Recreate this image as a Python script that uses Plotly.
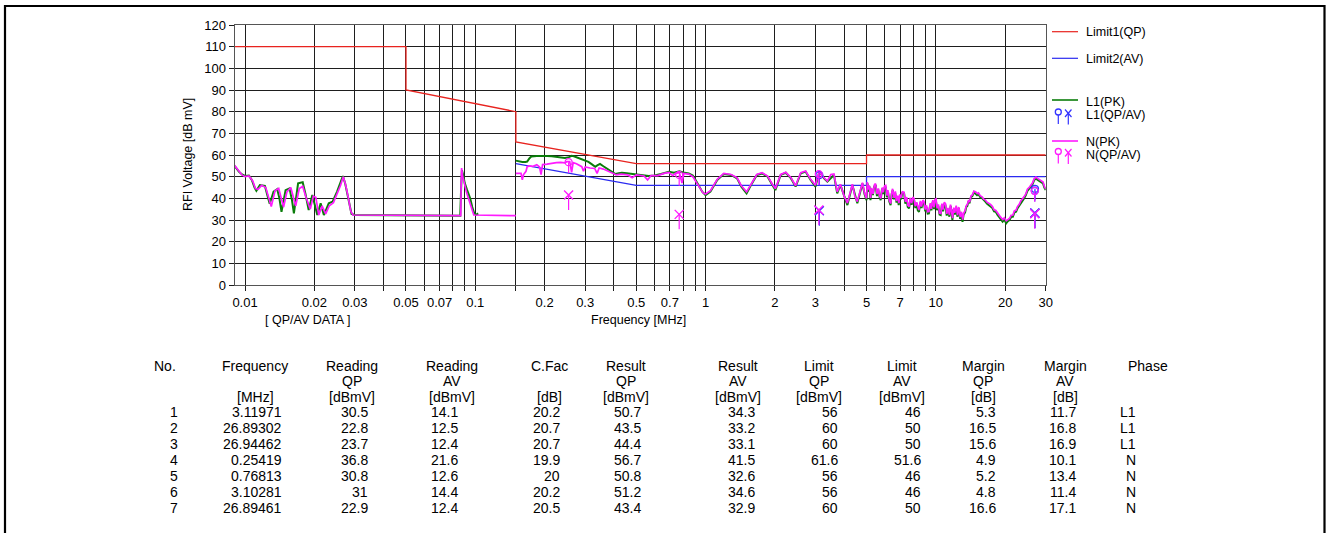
import plotly.graph_objects as go
import math

W, H = 1326, 533

# ---------------- data ----------------
# Limits
lim_qp_f = [0.009, 0.05, 0.05, 0.15, 0.15, 0.5, 5, 5, 30]
lim_qp_v = [110, 110, 90, 80, 66, 56, 56, 60, 60]
lim_av_f = [0.15, 0.5, 5, 5, 30]
lim_av_v = [56, 46, 46, 50, 50]

# L1 peak scan, band A (9 kHz - 150 kHz)
l1_fa = [0.009, 0.0094, 0.0097, 0.0100, 0.0104, 0.0107, 0.0110, 0.0112, 0.0116, 0.0122, 0.0126, 0.0128,
         0.0133, 0.0138, 0.0141, 0.0144, 0.0150, 0.0156, 0.0160, 0.0163, 0.0170, 0.0178, 0.0183, 0.0189,
         0.0196, 0.0200, 0.0206, 0.0213, 0.0220, 0.0231, 0.0240, 0.0251, 0.0260, 0.0266, 0.0272, 0.0278,
         0.0285, 0.0290, 0.0300, 0.0430, 0.0440, 0.0860, 0.0868, 0.0875, 0.0885, 0.0900, 0.0920, 0.0950,
         0.0970, 0.0990, 0.1010, 0.1030]
l1_va = [55.0, 52.3, 51.0, 50.3, 50.5, 48.5, 45.0, 43.5, 46.1, 45.7, 40.0, 37.5,
         43.1, 44.2, 40.0, 33.8, 43.8, 44.6, 39.0, 33.1, 46.9, 47.4, 42.0, 34.6,
         41.5, 38.0, 32.3, 37.7, 32.3, 37.7, 38.5, 43.1, 47.0, 50.3, 47.0, 42.3,
         36.0, 32.8, 32.3, 32.3, 32.0, 32.0, 45.0, 53.0, 51.0, 47.0, 44.0, 40.0,
         36.0, 33.0, 32.5, 33.0]
# L1 peak scan, band B (150 kHz - 30 MHz)
l1_fb = [0.150, 0.155, 0.160, 0.165, 0.168, 0.172, 0.175, 0.185, 0.195, 0.205, 0.215, 0.223,
         0.235, 0.245, 0.255, 0.262, 0.268, 0.280, 0.290, 0.300, 0.310, 0.320, 0.332, 0.340,
         0.348, 0.360, 0.375, 0.390, 0.406, 0.420, 0.433, 0.455, 0.475, 0.497, 0.530, 0.567,
         0.600, 0.640, 0.693, 0.730, 0.770, 0.800, 0.845, 0.880, 0.905, 0.930, 0.952, 0.967,
         1.000, 1.050, 1.124, 1.200, 1.290, 1.370, 1.430, 1.507, 1.590, 1.670, 1.760, 1.860,
         1.950, 2.010, 2.120, 2.230, 2.350, 2.460, 2.590, 2.720, 2.860, 3.000, 3.120, 3.270,
         3.380, 3.610, 3.730, 3.850, 4.130, 4.340, 4.560, 4.800, 4.900,
         5.00, 5.05, 5.10, 5.15, 5.20, 5.27, 5.33, 5.40, 5.48, 5.55, 5.62, 5.70,
         5.76, 5.84, 5.92, 6.00, 6.05, 6.13, 6.20, 6.28, 6.36, 6.43, 6.50, 6.58,
         6.66, 6.75, 6.82, 6.90, 6.98, 7.06, 7.15, 7.28, 7.37, 7.46, 7.55, 7.65,
         7.75, 7.85, 7.95, 8.04, 8.15, 8.25, 8.35, 8.45, 8.56, 8.67, 8.78, 8.88,
         9.00, 9.10, 9.22, 9.33, 9.45, 9.57, 9.70, 9.83, 9.92, 10.00, 10.12, 10.25,
         10.38, 10.50, 10.62, 10.75, 10.88, 11.00, 11.15, 11.30, 11.45, 11.60, 11.70, 11.80,
         11.95, 12.10, 12.25, 12.40, 12.60, 12.75, 12.90, 13.06, 13.20, 13.40, 13.55, 13.70,
         13.85, 14.00, 14.20, 14.40, 14.65, 14.90, 15.10, 15.30, 15.60, 15.90, 16.15, 16.40,
         16.70, 17.00, 17.30, 17.60, 17.90, 18.20, 18.50, 18.80, 19.15, 19.50, 19.85, 20.20,
         20.55, 20.90, 21.25, 21.60, 21.95, 22.30, 22.65, 23.00, 23.40, 23.80, 24.20, 24.60,
         25.00, 25.50, 25.90, 26.30, 26.75, 27.20, 27.70, 28.20, 28.70, 29.20, 29.60, 30.00]
l1_vb = [57.4, 57.0, 56.8, 56.8, 57.0, 58.5, 59.3, 59.5, 59.6, 59.5, 59.4, 59.2,
         58.8, 58.6, 59.0, 59.6, 59.4, 58.6, 58.0, 57.6, 56.8, 55.8, 54.6, 55.3,
         55.9, 54.8, 53.5, 52.3, 51.2, 51.6, 51.8, 51.6, 51.3, 51.2, 50.8, 50.3,
         50.6, 51.2, 52.3, 51.8, 52.5, 51.9, 51.5, 50.5, 48.5, 46.0, 43.8, 43.1,
         41.5, 43.1, 48.5, 51.2, 50.8, 49.2, 45.4, 42.3, 46.9, 50.8, 51.5, 50.0,
         46.2, 43.8, 50.8, 51.8, 49.2, 45.4, 51.5, 52.3, 48.5, 45.4, 52.3, 49.2,
         47.7, 50.8, 42.3, 46.2, 36.9, 46.2, 37.7, 46.9, 42.0,
         39.2, 46.9, 43.0, 45.5, 39.2, 44.0, 41.5, 45.5, 46.2, 41.0, 44.0, 40.5,
         39.2, 44.5, 42.0, 45.0, 45.4, 40.5, 43.0, 38.5, 36.9, 42.0, 43.8, 39.5,
         42.5, 38.0, 40.5, 36.9, 41.0, 39.5, 42.5, 42.3, 37.5, 40.0, 36.0, 35.4,
         39.5, 37.0, 40.0, 39.2, 35.5, 37.5, 34.5, 33.8, 38.0, 35.5, 38.5, 37.7,
         34.0, 36.0, 33.0, 33.1, 37.0, 34.5, 38.5, 35.0, 39.0, 39.2, 34.5, 36.5,
         32.5, 32.3, 37.0, 34.0, 37.5, 36.9, 32.0, 35.0, 31.5, 36.5, 33.0, 30.0,
         35.0, 32.5, 36.0, 31.5, 35.4, 30.5, 33.0, 29.2, 32.5, 33.5, 36.0, 36.5,
         38.5, 37.7, 40.5, 41.0, 42.8, 42.3, 41.5, 42.0, 40.5, 40.0, 39.0, 38.5,
         37.5, 36.9, 36.5, 35.5, 34.0, 33.8, 32.5, 31.5, 30.5, 29.2, 30.2, 28.5,
         29.5, 30.0, 31.5, 31.5, 33.5, 33.8, 35.5, 36.5, 38.0, 39.2, 40.0, 41.5,
         43.5, 44.6, 45.5, 46.5, 48.5, 49.2, 48.5, 48.0, 47.5, 46.9, 45.0, 43.8]

# N peak scan, band A
n_fa = [0.009, 0.0094, 0.0097, 0.0100, 0.0104, 0.0108, 0.0111, 0.0114, 0.0118, 0.0123, 0.0127, 0.0130,
        0.0135, 0.0140, 0.0147, 0.0152, 0.0158, 0.0166, 0.0172, 0.0178, 0.0184, 0.0192, 0.0198, 0.0203,
        0.0209, 0.0216, 0.0224, 0.0232, 0.0242, 0.0252, 0.0260, 0.0267, 0.0273, 0.0280, 0.0288, 0.0294,
        0.0430, 0.0440, 0.0865, 0.0868, 0.0872, 0.0880, 0.0895, 0.0915, 0.0940, 0.0965, 0.0985, 0.1500]
n_va = [55.2, 52.5, 50.8, 50.0, 50.3, 48.0, 44.5, 44.2, 46.0, 45.0, 39.5, 36.2,
        43.5, 44.6, 36.0, 43.0, 45.0, 36.5, 44.5, 45.5, 40.5, 35.0, 41.0, 40.5,
        32.3, 36.5, 32.8, 36.5, 38.0, 42.5, 46.0, 50.0, 46.5, 41.0, 34.0, 32.3,
        32.3, 32.0, 32.0, 46.0, 54.0, 50.5, 47.0, 43.0, 39.0, 35.0, 32.3, 32.0]
# N peak scan, band B
n_fb = [0.150, 0.158, 0.160, 0.162, 0.166, 0.168, 0.172, 0.178, 0.185, 0.190, 0.193, 0.196,
        0.205, 0.215, 0.225, 0.235, 0.245, 0.250, 0.257, 0.262, 0.266, 0.275, 0.285, 0.290,
        0.295, 0.300, 0.315, 0.330, 0.338, 0.345, 0.360, 0.380, 0.395, 0.410, 0.430, 0.460,
        0.480, 0.500, 0.540, 0.560, 0.580, 0.620, 0.660, 0.693, 0.720, 0.740, 0.770, 0.790,
        0.805, 0.845, 0.880, 0.905, 0.930, 0.952, 0.975, 1.000, 1.050, 1.124, 1.200, 1.290,
        1.370, 1.430, 1.507, 1.590, 1.670, 1.760, 1.860, 1.950, 2.010, 2.120, 2.230, 2.350,
        2.460, 2.590, 2.720, 2.860, 3.000, 3.050, 3.120, 3.200, 3.270, 3.380, 3.500, 3.610,
        3.730, 3.850, 4.000, 4.130, 4.340, 4.450, 4.560, 4.800, 4.900,
        5.00, 5.04, 5.09, 5.14, 5.21, 5.26, 5.34, 5.41, 5.47, 5.56, 5.63, 5.69,
        5.77, 5.85, 5.91, 5.99, 6.06, 6.14, 6.19, 6.27, 6.37, 6.44, 6.49, 6.59,
        6.67, 6.74, 6.83, 6.91, 6.97, 7.05, 7.16, 7.27, 7.38, 7.47, 7.56, 7.66,
        7.74, 7.86, 7.94, 8.05, 8.14, 8.26, 8.36, 8.44, 8.57, 8.66, 8.79, 8.89,
        8.99, 9.11, 9.21, 9.34, 9.46, 9.56, 9.71, 9.82, 9.93, 10.02, 10.13, 10.26,
        10.37, 10.52, 10.63, 10.74, 10.89, 11.02, 11.16, 11.29, 11.46, 11.58, 11.71, 11.82,
        11.96, 12.08, 12.26, 12.42, 12.58, 12.76, 12.92, 13.08, 13.22, 13.38, 13.56, 13.72,
        13.86, 14.02, 14.22, 14.42, 14.63, 14.92, 15.12, 15.32, 15.58, 15.92, 16.13, 16.42,
        16.68, 17.02, 17.28, 17.62, 17.88, 18.22, 18.48, 18.82, 19.12, 19.52, 19.83, 20.22,
        20.52, 20.92, 21.22, 21.62, 21.92, 22.32, 22.62, 23.02, 23.38, 23.82, 24.18, 24.62,
        24.98, 25.52, 25.88, 26.32, 26.72, 27.22, 27.68, 28.22, 28.68, 29.22, 29.58, 30.00]
n_vb = [51.5, 51.5, 48.5, 51.0, 52.5, 54.6, 55.0, 54.8, 55.5, 54.5, 51.0, 55.6,
        55.8, 56.3, 56.5, 56.6, 56.4, 56.9, 56.9, 52.0, 56.5, 56.0, 55.0, 54.6,
        52.5, 54.5, 54.0, 53.8, 51.5, 54.0, 53.5, 52.3, 51.5, 50.8, 51.2, 50.8,
        49.5, 50.8, 50.3, 48.5, 50.5, 50.5, 51.5, 52.0, 50.5, 51.5, 51.8, 47.0,
        51.5, 51.2, 50.0, 48.0, 45.5, 44.0, 42.5, 42.0, 43.5, 48.8, 51.5, 51.0,
        49.5, 45.8, 43.0, 47.2, 51.0, 51.8, 50.3, 46.5, 44.5, 51.0, 52.0, 49.5,
        45.8, 51.8, 52.6, 48.8, 46.0, 49.0, 52.6, 50.5, 49.5, 48.0, 51.0, 51.2,
        43.0, 46.5, 41.0, 37.8, 46.5, 41.0, 38.5, 47.2, 42.5,
        40.0, 47.5, 44.0, 46.0, 40.2, 44.8, 42.0, 46.2, 46.8, 42.0, 44.6, 41.2,
        40.0, 45.0, 42.8, 45.8, 46.0, 41.2, 43.8, 39.2, 37.6, 42.8, 44.4, 40.2,
        43.2, 38.8, 41.2, 37.8, 41.8, 40.2, 43.0, 42.8, 38.4, 40.6, 36.8, 36.2,
        40.2, 37.8, 40.6, 39.8, 36.4, 38.2, 35.2, 34.6, 38.8, 36.2, 39.2, 38.4,
        34.8, 36.8, 33.8, 33.9, 37.8, 35.2, 39.2, 35.8, 39.6, 39.8, 35.4, 37.2,
        33.2, 33.0, 37.6, 34.8, 38.2, 37.5, 32.8, 35.6, 32.3, 37.1, 33.8, 30.9,
        35.7, 33.3, 36.6, 32.3, 36.0, 31.3, 33.8, 30.2, 33.2, 34.2, 36.6, 37.2,
        39.2, 38.3, 41.2, 41.6, 43.3, 42.9, 42.2, 42.5, 41.2, 40.6, 39.6, 39.2,
        38.2, 37.6, 37.2, 36.2, 34.8, 34.4, 33.3, 32.3, 31.3, 30.2, 31.0, 29.6,
        30.3, 30.8, 32.2, 32.3, 34.2, 34.6, 36.2, 37.2, 38.8, 39.8, 40.8, 42.2,
        44.2, 45.2, 46.2, 47.2, 49.0, 49.8, 49.2, 48.6, 48.2, 47.5, 45.6, 44.3]

# Final QP/AV table
t_no = [1, 2, 3, 4, 5, 6, 7]
t_freq = [3.11971, 26.89302, 26.94462, 0.25419, 0.76813, 3.10281, 26.89461]
t_read_qp = [30.5, 22.8, 23.7, 36.8, 30.8, 31, 22.9]
t_read_av = [14.1, 12.5, 12.4, 21.6, 12.6, 14.4, 12.4]
t_cfac = [20.2, 20.7, 20.7, 19.9, 20, 20.2, 20.5]
t_res_qp = [50.7, 43.5, 44.4, 56.7, 50.8, 51.2, 43.4]
t_res_av = [34.3, 33.2, 33.1, 41.5, 32.6, 34.6, 32.9]
t_lim_qp = [56, 60, 60, 61.6, 56, 56, 60]
t_lim_av = [46, 50, 50, 51.6, 46, 46, 50]
t_mar_qp = [5.3, 16.5, 15.6, 4.9, 5.2, 4.8, 16.6]
t_mar_av = [11.7, 16.8, 16.9, 10.1, 13.4, 11.4, 17.1]
t_phase = ["L1", "L1", "L1", "N", "N", "N", "N"]

x_tickvals = [0.01, 0.02, 0.03, 0.05, 0.07, 0.1, 0.2, 0.3, 0.5, 0.7, 1, 2, 3, 5, 7, 10, 20, 30]
x_ticktext = ["0.01", "0.02", "0.03", "0.05", "0.07", "0.1", "0.2", "0.3", "0.5", "0.7",
              "1", "2", "3", "5", "7", "10", "20", "30"]
x_minor = [0.04, 0.06, 0.08, 0.09, 0.15, 0.4, 0.6, 0.8, 0.9, 4, 6, 8, 9]

# ---------------- styling ----------------
FONT = "Liberation Sans, Arial, sans-serif"
RED = "#e8231f"
BLUE = "#2b2bf0"
GREEN = "#0a7d0a"
MAG = "#ff1aff"
L1MK = "#3333ff"

def px(x):
    return x / W

def py(y):
    return 1 - y / H

fig = go.Figure()

fig.add_trace(go.Scatter(x=lim_qp_f, y=lim_qp_v, mode="lines", line=dict(color=RED, width=1.3)))
fig.add_trace(go.Scatter(x=lim_av_f, y=lim_av_v, mode="lines", line=dict(color=BLUE, width=1.3)))

fig.add_trace(go.Scatter(x=l1_fa + [None] + l1_fb, y=l1_va + [None] + l1_vb, mode="lines",
                         connectgaps=False, line=dict(color=GREEN, width=2)))
fig.add_trace(go.Scatter(x=n_fa + [None] + n_fb, y=n_va + [None] + n_vb, mode="lines",
                         connectgaps=False, line=dict(color=MAG, width=1.7)))

for ph, col in (("L1", L1MK), ("N", MAG)):
    fx = [f for f, p in zip(t_freq, t_phase) if p == ph]
    qp = [v for v, p in zip(t_res_qp, t_phase) if p == ph]
    av = [v for v, p in zip(t_res_av, t_phase) if p == ph]
    fig.add_trace(go.Scatter(x=fx, y=qp, mode="markers",
                             marker=dict(symbol="circle-open", size=7, color=col, line=dict(width=1.3)),
                             error_y=dict(type="constant", symmetric=False, value=0, valueminus=5,
                                          width=0, thickness=1.2, color=col)))
    fig.add_trace(go.Scatter(x=fx, y=av, mode="markers",
                             marker=dict(symbol="x-thin-open", size=9, color=col, line=dict(width=1.4)),
                             error_y=dict(type="constant", symmetric=False, value=0, valueminus=6.9,
                                          width=0, thickness=1.2, color=col)))

GRID = "#1e1e1e"
fig.update_layout(
    width=W, height=H, margin=dict(l=0, r=0, t=0, b=0),
    paper_bgcolor="white", plot_bgcolor="white", showlegend=False,
    font=dict(family=FONT, size=13, color="black"),
    xaxis=dict(type="log", domain=[px(234.5), px(1045.7)],
               range=[math.log10(0.009), math.log10(30)],
               tickvals=x_tickvals, ticktext=x_ticktext,
               showgrid=True, gridcolor=GRID, gridwidth=1,
               ticks="outside", ticklen=5, tickcolor=GRID,
               minor=dict(tickvals=x_minor, showgrid=True, gridcolor=GRID, gridwidth=1,
                          ticks="outside", ticklen=5, tickcolor=GRID),
               showline=True, mirror=True, linecolor="#555", linewidth=1,
               zeroline=False, automargin=False,
               tickfont=dict(family=FONT, size=13)),
    yaxis=dict(domain=[py(285), py(25)], range=[0, 120], dtick=10, tick0=0,
               showgrid=True, gridcolor=GRID, gridwidth=1,
               ticks="outside", ticklen=5, tickcolor=GRID,
               showline=True, mirror=True, linecolor="#555", linewidth=1,
               zeroline=False, automargin=False,
               tickfont=dict(family=FONT, size=13)),
)

shapes = []
annos = []

# outer frame
shapes.append(dict(type="rect", xref="paper", yref="paper", x0=px(5), x1=px(1324.5),
                   y0=py(6), y1=-0.2, line=dict(color="black", width=2.2)))

# axis titles
annos.append(dict(text="RFI Voltage [dB mV]", x=px(188), y=py(155), textangle=-90,
                  font=dict(size=12.5)))
annos.append(dict(text="[ QP/AV DATA ]", x=px(307), y=py(320), font=dict(size=12.5)))
annos.append(dict(text="Frequency [MHz]", x=px(638), y=py(320), font=dict(size=12.5)))

# legend
def hline(x0, x1, y, col, w=1.2):
    shapes.append(dict(type="line", xref="paper", yref="paper", x0=px(x0), x1=px(x1),
                       y0=py(y), y1=py(y), line=dict(color=col, width=w)))

def seg(x0, y0, x1, y1, col, w=1.2):
    shapes.append(dict(type="line", xref="paper", yref="paper", x0=px(x0), x1=px(x1),
                       y0=py(y0), y1=py(y1), line=dict(color=col, width=w)))

def ltext(t, y):
    annos.append(dict(text=t, x=px(1084), y=py(y), xanchor="left", font=dict(size=12.5)))

def glyph(yc, col):
    shapes.append(dict(type="circle", xref="paper", yref="paper", x0=px(1055.3), x1=px(1061.3),
                       y0=py(yc - 3), y1=py(yc + 3), line=dict(color=col, width=1.3)))
    seg(1058.3, yc + 3, 1058.3, yc + 12, col)
    seg(1065, yc - 2.5, 1071.5, yc + 5, col)
    seg(1065, yc + 5, 1071.5, yc - 2.5, col)
    seg(1068.3, yc + 1.2, 1068.3, yc + 12.5, col)

hline(1052, 1078, 31.7, RED)
ltext("Limit1(QP)", 32)
hline(1052, 1078, 58.3, BLUE)
ltext("Limit2(AV)", 59)
hline(1052, 1078, 100, GREEN, 1.6)
ltext("L1(PK)", 101.5)
glyph(112, L1MK)
ltext("L1(QP/AV)", 115)
hline(1052, 1078, 141, MAG, 1.6)
ltext("N(PK)", 141.5)
glyph(151.5, MAG)
ltext("N(QP/AV)", 155)

# table
def fmt(v):
    return f"{v:g}"

cols = [
    ("No.", "", "", 165, 180, [str(v) for v in t_no]),
    ("Frequency", "", "[MHz]", 255, 283.5, [f"{v:.5f}" for v in t_freq]),
    ("Reading", "QP", "[dBmV]", 351.7, 370, [fmt(v) for v in t_read_qp]),
    ("Reading", "AV", "[dBmV]", 451.7, 460, [fmt(v) for v in t_read_av]),
    ("C.Fac", "", "[dB]", 549, 561.7, [fmt(v) for v in t_cfac]),
    ("Result", "QP", "[dBmV]", 626, 643.3, [fmt(v) for v in t_res_qp]),
    ("Result", "AV", "[dBmV]", 738, 757, [fmt(v) for v in t_res_av]),
    ("Limit", "QP", "[dBmV]", 819, 840, [fmt(v) for v in t_lim_qp]),
    ("Limit", "AV", "[dBmV]", 901.7, 923.3, [fmt(v) for v in t_lim_av]),
    ("Margin", "QP", "[dB]", 983, 998.3, [fmt(v) for v in t_mar_qp]),
    ("Margin", "AV", "[dB]", 1065, 1078.3, [fmt(v) for v in t_mar_av]),
    ("Phase", "", "", 1148, 1138, t_phase),
]
TF = dict(size=14)
for h1, h2, h3, cx, rx, vals in cols:
    for txt, yy in ((h1, 366), (h2, 381), (h3, 396.5)):
        if txt:
            annos.append(dict(text=txt, x=px(cx), y=py(yy), xanchor="center", font=TF))
    for i, v in enumerate(vals):
        annos.append(dict(text=v, x=px(rx), y=py(412 + 16.05 * i), xanchor="right", font=TF))

for a in annos:
    a.setdefault("xref", "paper")
    a.setdefault("yref", "paper")
    a.setdefault("showarrow", False)
    a.setdefault("yanchor", "middle")
    a.setdefault("xanchor", "center")

fig.update_layout(shapes=shapes, annotations=annos)
fig.write_html("out.html")
